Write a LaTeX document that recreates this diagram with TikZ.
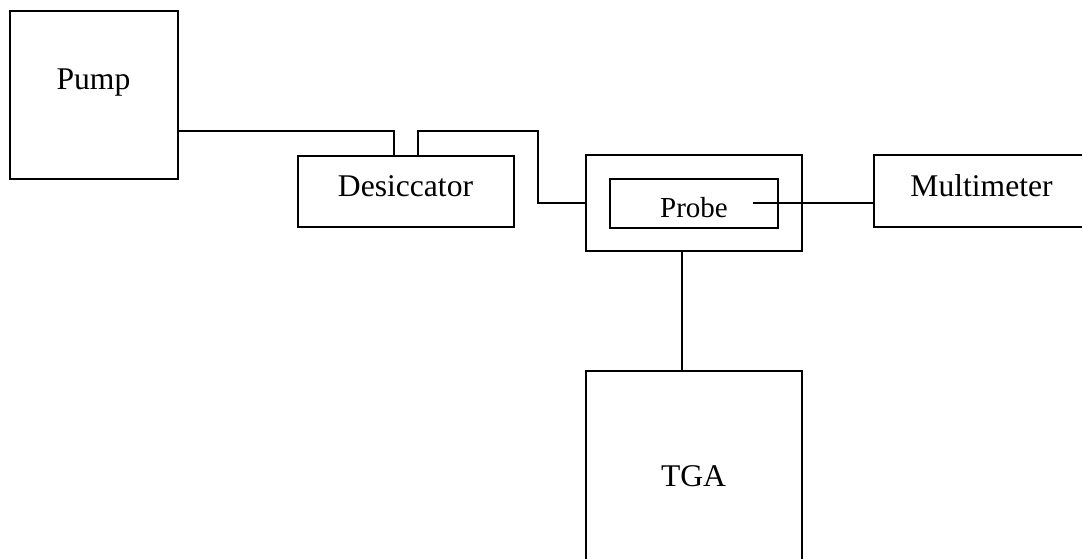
\documentclass[tikz,border=0pt]{standalone}
\usepackage{fontspec}
\setmainfont{Liberation Serif}
\begin{document}
\begin{tikzpicture}[x=1pt,y=-1pt,line cap=butt,line join=miter,
  box/.style={draw,line width=1.8pt,inner sep=0pt,outer sep=0pt},
  lbl/.style={anchor=base,inner sep=0pt,font=\fontsize{31.6}{38}\selectfont},
  pipe/.style={line width=1.8pt}]
\useasboundingbox (0,0) rectangle (1082,558);
% boxes
\node[box,minimum width=168,minimum height=168] (pump) at (94,95) {};
\node[box,minimum width=216,minimum height=71] (desic) at (406,191.5) {};
\node[box,minimum width=216,minimum height=96] (holder) at (694,203) {};
\node[box,minimum width=168,minimum height=49] (probe) at (694,203.5) {};
\node[box,minimum width=216,minimum height=72] (meter) at (982,191) {};
\node[box,minimum width=216,minimum height=200] (tga) at (694,471) {};
% texts
\node[lbl] (pumptext) at (93.5,89) {Pump};
\node[lbl] (desictext) at (405.5,196) {Desiccator};
\node[lbl,font=\fontsize{29}{35}\selectfont] (probetext) at (694,217) {Probe};
\node[lbl] (metertext) at (981.5,196) {Multimeter};
\node[lbl] (tgatext) at (693.5,486) {TGA};
% pipes and wires
\coordinate (pumpout) at (178,131);
\coordinate (bend) at (538,131);
\coordinate (tip) at (753,203);
\draw[pipe] (pumpout) -| ([xshift=-12pt]desic.north);
\draw[pipe] ([xshift=12pt]desic.north) |- (bend) |- (holder.west);
\draw[pipe] (tip) -- (tip -| meter.west);
\draw[pipe] (holder.south -| 682,0) -- (tga.north -| 682,0);
\end{tikzpicture}
\end{document}
